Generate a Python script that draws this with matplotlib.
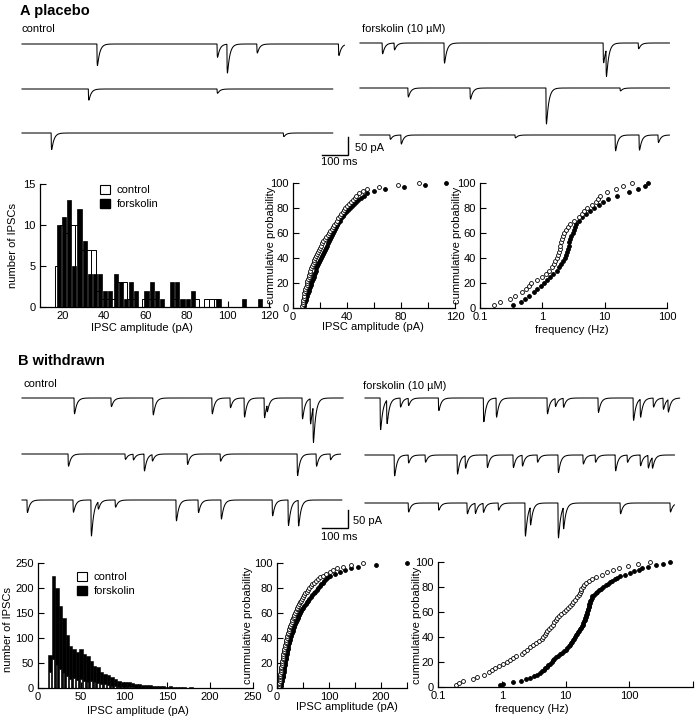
import numpy as np
import matplotlib
matplotlib.use("Agg")
import matplotlib.pyplot as plt
from matplotlib.patches import Patch
from matplotlib.ticker import NullLocator

plt.rcParams['font.family'] = ['Liberation Sans', 'DejaVu Sans']
plt.rcParams['font.size'] = 8
plt.rcParams['axes.linewidth'] = 0.9

# ------------------------------------------------------------------ DATA
# spontaneous IPSC traces: event times (ms) and amplitudes (pA) per sweep
a_ctrl_dur = [1240, 1195, 1195]
a_ctrl_t = [[288, 750, 788, 903, 1217], [255, 750], [112, 1005]]
a_ctrl_amp = [[60, 37, 80, 25, 32], [31, 12], [46, 10]]

a_fsk_dur = [1190, 1190, 1190]
a_fsk_t = [[85, 131, 323, 935, 946, 1070], [184, 423, 715, 1000],
           [115, 157, 596, 981, 1073, 1146]]
a_fsk_amp = [[30, 19, 56, 55, 75, 16], [25, 31, 100, 8],
             [12, 25, 8, 44, 42, 21]]

b_ctrl_dur = [1235, 1225, 1230]
b_ctrl_t = [[200, 342, 503, 730, 800, 854, 931, 942, 1077, 1108, 1119],
            [177, 396, 427, 469, 500, 635, 762, 1058, 1131, 1185],
            [19, 196, 265, 292, 358, 592, 677, 765, 962, 1023, 1062]]
b_ctrl_amp = [[44, 24, 47, 44, 27, 53, 55, 20, 58, 70, 100],
              [34, 15, 16, 47, 18, 29, 20, 60, 34, 16],
              [35, 34, 100, 20, 20, 58, 35, 53, 44, 71, 71]]

b_fsk_dur = [1210, 1190, 1190]
b_fsk_t = [[58, 83, 135, 166, 282, 455, 504, 700, 731, 762, 896, 1031, 1058, 1108, 1146, 1165],
           [112, 166, 231, 354, 385, 469, 569, 604, 662, 742, 838, 885, 962, 1008, 1058, 1088, 1104],
           [166, 282, 392, 423, 454, 512, 615, 635, 742, 762, 981, 1173]]
b_fsk_amp = [[88, 65, 25, 20, 35, 66, 53, 44, 22, 25, 40, 62, 50, 25, 31, 35],
             [58, 22, 20, 53, 35, 35, 35, 30, 20, 49, 25, 20, 44, 20, 30, 35, 30],
             [25, 20, 30, 28, 25, 20, 92, 50, 97, 60, 30, 25]]

# amplitude histograms
hist_a_start, hist_a_width = 16.0, 2.5
hist_a_ctrl = [5, 10, 9, 10, 10, 7, 7, 7, 2, 1, 1, 1, 3, 3, 1, 1, 0, 1, 1, 1, 0,
               0, 0, 1, 0, 0, 0, 1, 0, 1, 1, 1, 0, 0, 0, 0, 0, 0, 0, 0, 0]
hist_a_fsk = [10, 11, 13, 5, 12, 8, 4, 4, 4, 2, 2, 4, 3, 1, 3, 2, 0, 2, 3, 2, 1,
              0, 3, 3, 1, 1, 2, 0, 0, 0, 0, 1, 0, 0, 0, 0, 1, 0, 0, 1, 0]

hist_b_start, hist_b_width = 12.0, 4.0
hist_b_fsk = [67, 225, 200, 165, 140, 107, 85, 78, 73, 79, 68, 64, 55, 45, 42,
              33, 28, 26, 22, 19, 15, 13, 12, 13, 10, 9, 8, 7, 6, 6, 5, 4, 5, 4, 3,
              5, 2, 3, 2, 2, 1, 2, 1, 1, 1, 0, 1, 1, 1, 0, 1, 0, 1, 1, 0, 1, 0, 1, 1, 0]
hist_b_ctrl = [32, 58, 47, 38, 30, 24, 18, 20, 16, 18, 14, 13, 15, 12, 10, 8, 9,
               6, 5, 4, 3, 3, 2, 2, 2, 1, 1, 1, 1, 0, 0, 0, 0, 0, 1, 1, 1, 1, 0, 0,
               0, 0, 0, 0, 0, 0, 0, 0, 0, 0, 0, 0, 0, 0, 0, 0, 0, 0, 0, 0]

# cumulative distributions (sorted values)
cum_a_amp_ctrl = [6.8, 7.1, 7.4, 7.7, 8.0, 8.2, 8.5, 8.8, 9.2, 9.6, 10.0, 10.3, 10.6,
                  11.0, 11.5, 11.9, 12.3, 12.7, 13.2, 13.9, 14.6, 15.2, 15.9, 16.6,
                  17.3, 18.0, 18.6, 19.3, 20.0, 20.7, 21.5, 22.5, 23.6, 24.6, 25.6,
                  26.6, 27.6, 28.7, 29.7, 30.7, 31.7, 32.7, 33.7, 34.8, 35.8, 36.8,
                  37.8, 38.8, 40.1, 41.5, 42.9, 44.2, 45.6, 46.9, 49.0, 51.5, 55.0,
                  64.0, 78.0, 93.0]
cum_a_amp_fsk = [7.8, 8.3, 8.8, 9.3, 9.8, 10.4, 11.0, 11.5, 12.0, 12.5, 13.0, 13.4,
                 14.0, 14.6, 15.2, 15.7, 16.2, 16.8, 17.3, 18.0, 18.7, 19.4, 20.1,
                 20.8, 21.4, 22.2, 22.9, 23.6, 24.3, 25.0, 25.8, 26.6, 27.3, 28.1,
                 28.8, 29.6, 30.2, 30.9, 31.5, 32.5, 33.5, 34.5, 35.5, 36.8, 38.0,
                 39.2, 40.5, 42.0, 43.5, 45.0, 46.5, 48.2, 50.0, 52.5, 55.0, 60.0,
                 68.0, 82.0, 98.0, 113.0]
cum_a_freq_ctrl = [0.17, 0.21, 0.30, 0.37, 0.47, 0.54, 0.60, 0.67, 0.82, 1.00, 1.15,
                   1.30, 1.43, 1.53, 1.62, 1.69, 1.76, 1.85, 1.92, 1.95, 1.98, 2.05,
                   2.15, 2.25, 2.40, 2.60, 2.80, 3.20, 3.9, 4.3, 4.7, 5.2, 6.2, 7.3,
                   7.9, 8.4, 11.0, 15.0, 20.0, 27.0]
cum_a_freq_fsk = [0.34, 0.45, 0.53, 0.62, 0.73, 0.83, 0.94, 1.06, 1.19, 1.34, 1.48,
                  1.70, 1.88, 2.0, 2.15, 2.28, 2.38, 2.47, 2.56, 2.63, 2.72, 2.82,
                  2.92, 3.05, 3.2, 3.35, 3.5, 3.9, 4.3, 5.0, 5.8, 6.8, 8.0, 9.3,
                  11.2, 16.0, 25.0, 34.0, 45.0, 50.0]
cum_b_amp_ctrl = [4.0, 4.4, 4.7, 5.1, 5.5, 5.8, 6.2, 6.5, 7.1, 7.6, 8.1, 8.6, 9.1,
                  9.6, 10.1, 10.7, 11.3, 11.8, 12.4, 13.0, 13.6, 14.2, 14.9, 15.7,
                  16.4, 17.1, 17.9, 18.6, 19.4, 20.4, 21.5, 22.4, 23.5, 24.5, 25.5,
                  26.6, 28.0, 29.2, 30.6, 31.9, 33.2, 34.5, 36.0, 37.5, 39.2, 40.7,
                  42.4, 43.9, 45.6, 47.6, 50.0, 52.2, 54.6, 56.9, 59.3, 61.5, 64.6,
                  67.7, 71.0, 74.5, 79.0, 83.2, 87.7, 94.2, 101, 108, 116, 126, 142, 165]
cum_b_amp_fsk = [7.0, 7.7, 8.5, 9.2, 9.9, 10.6, 11.4, 12.0, 12.6, 13.2, 13.8, 14.4,
                 15.0, 15.5, 16.1, 16.7, 17.3, 17.8, 18.4, 19.0, 19.6, 20.2, 21.1,
                 22.0, 22.9, 23.7, 24.6, 25.5, 26.5, 27.6, 28.8, 29.9, 31.1, 32.2,
                 33.4, 34.8, 36.4, 38.0, 39.6, 41.2, 42.8, 44.3, 46.4, 48.5, 50.7,
                 52.8, 55.0, 57.2, 59.4, 62.0, 65.0, 67.8, 70.8, 73.6, 76.6, 79.4,
                 82.4, 85.2, 88.2, 91.3, 95.1, 98.8, 102.7, 111, 121, 130, 142, 156,
                 190, 250]
cum_b_freq_ctrl = [0.19, 0.21, 0.25, 0.36, 0.41, 0.52, 0.62, 0.70, 0.79, 0.92, 1.03,
                   1.20, 1.35, 1.50, 1.70, 2.05, 2.20, 2.50, 2.75, 3.10, 3.45, 3.90,
                   4.25, 4.50, 4.70, 4.90, 5.20, 5.50, 5.90, 6.30, 6.70, 7.00, 7.40,
                   7.90, 8.60, 9.40, 10.2, 11.0, 11.8, 12.6, 13.2, 14.0, 15.2, 16.3,
                   16.8, 17.3, 17.8, 18.5, 19.7, 21.0, 23.5, 26.0, 30.0, 37.0, 45.0,
                   55.0, 68.0, 95.0, 135.0, 210.0]
cum_b_freq_fsk = [0.95, 1.05, 1.5, 2.0, 2.4, 2.75, 3.2, 3.6, 3.95, 4.3, 4.55, 4.85,
                  5.1, 5.4, 5.8, 6.1, 6.4, 6.7, 7.1, 7.7, 8.3, 8.9, 9.5, 10.1, 10.7,
                  11.2, 11.6, 12.1, 12.6, 13.0, 13.5, 14.0, 14.6, 15.2, 15.8, 16.4,
                  17.0, 17.6, 18.2, 18.6, 19.0, 19.4, 19.9, 20.4, 21.0, 21.3, 21.6,
                  22.0, 22.3, 22.6, 23.0, 23.3, 23.7, 24.1, 24.6, 25.1, 25.6, 26.5,
                  28.0, 29.6, 31.3, 33.5, 36.3, 39.0, 42.5, 46.0, 50.0, 53.0, 59.0,
                  64.0, 72.0, 85.0, 102, 120, 140, 160, 200, 260, 340, 430]

# ------------------------------------------------------------------ FIGURE
W, H = 698, 720
fig = plt.figure(figsize=(W / 100, H / 100), dpi=100)


def px_axes(l, t, r, b):
    return fig.add_axes([l / W, 1 - b / H, (r - l) / W, (b - t) / H])


def ftext(x, y, s, **kw):
    kw.setdefault('va', 'center')
    kw.setdefault('ha', 'left')
    fig.text(x / W, 1 - y / H, s, **kw)


PX_MS = 0.26   # pixels per ms (100 ms bar = 26 px)
PX_PA = 0.36   # pixels per pA (50 pA bar = 18 px)
TAU_R, TAU_D = 0.8, 9.0


def sweep(dur, times, amps, dt=0.5):
    t = np.arange(0, dur + dt, dt)
    tk = np.arange(0, 100, 0.05)
    kpk = (np.exp(-tk / TAU_D) - np.exp(-tk / TAU_R)).max()
    y = np.zeros_like(t)
    for t0, a in zip(times, amps):
        s = t - t0
        m = s >= 0
        y[m] -= a * (np.exp(-s[m] / TAU_D) - np.exp(-s[m] / TAU_R)) / kpk
    return t, y


def trace_block(left, top, right, bottom, rows_px, durs, times, amps):
    ax = px_axes(left, top, right, bottom)
    ax.set_xlim(0, (right - left) / PX_MS)
    ax.set_ylim(-(bottom - top) / PX_PA, 0)
    ax.axis('off')
    for rp, d, tt, aa in zip(rows_px, durs, times, amps):
        t, y = sweep(d, tt, aa)
        ax.plot(t, y - (rp - top) / PX_PA, color='black', lw=0.75, clip_on=False)
    return ax


def scale_bar(ax, left, top, x_px, y_top_px):
    x = (x_px - left) / PX_MS
    y1 = -(y_top_px - top) / PX_PA
    y0 = y1 - 50
    ax.plot([x, x, x - 100], [y1, y0, y0], color='black', lw=1.0,
            solid_joinstyle='miter', clip_on=False)


# panel titles
ftext(20, 11, 'A placebo', fontsize=10.5, fontweight='bold')
ftext(22, 29, 'control')
ftext(362, 29, 'forskolin (10 \u00b5M)')
ftext(18, 361, 'B withdrawn', fontsize=10.5, fontweight='bold')
ftext(24, 384, 'control')
ftext(363, 386, 'forskolin (10 \u00b5M)')

axA1 = trace_block(22, 30, 352, 170, [44, 89, 133], a_ctrl_dur, a_ctrl_t, a_ctrl_amp)
scale_bar(axA1, 22, 30, 348, 137)
ftext(355, 148, '50 pA')
ftext(321, 162, '100 ms')
trace_block(360, 30, 690, 170, [43, 88, 135], a_fsk_dur, a_fsk_t, a_fsk_amp)

axB1 = trace_block(22, 385, 352, 545, [398, 454, 500], b_ctrl_dur, b_ctrl_t, b_ctrl_amp)
scale_bar(axB1, 22, 385, 348, 510)
ftext(353, 521, '50 pA')
ftext(321, 537, '100 ms')
trace_block(365, 385, 695, 545, [398, 455, 503], b_fsk_dur, b_fsk_t, b_fsk_amp)


def style(ax):
    for s in ('top', 'right'):
        ax.spines[s].set_visible(False)
    ax.tick_params(direction='in', length=4, width=0.8, labelsize=8, pad=3)
    ax.tick_params(which='minor', direction='in', length=4, width=0.8)


def label_pos(ax, bounds, xl, yl):
    l, t, r, b = bounds
    ax.xaxis.set_label_coords((xl[0] - l) / (r - l), (b - xl[1]) / (b - t))
    ax.yaxis.set_label_coords((yl[0] - l) / (r - l), (b - yl[1]) / (b - t))
    ax.xaxis.label.set_va('center')
    ax.yaxis.label.set_va('center')


def cum(ax, vals, filled):
    v = np.asarray(vals, dtype=float)
    p = np.arange(1, len(v) + 1) / len(v) * 100
    ax.plot(v, p, ls='none', marker='o', ms=2.8,
            mfc='black' if filled else 'white', mec='black', mew=0.6, clip_on=False)


def legend(ax, x, y):
    h = [Patch(fc='white', ec='black', lw=0.8), Patch(fc='black', ec='black')]
    ax.legend(h, ['control', 'forskolin'], loc='upper left', bbox_to_anchor=(x, y),
              frameon=False, fontsize=8, handlelength=0.9, handleheight=0.8,
              handletextpad=0.6, labelspacing=0.35, borderpad=0, borderaxespad=0)


# ---- A histogram
bA = (40, 184, 270, 307)
ax = px_axes(*bA)
style(ax)
sa = hist_a_start + hist_a_width * np.arange(len(hist_a_ctrl))
ca = np.array(hist_a_ctrl)
fa = np.array(hist_a_fsk)
ax.bar(sa[ca > 0], ca[ca > 0], width=hist_a_width, align='edge', fc='white', ec='black', lw=0.7)
ax.bar(sa[fa > 0] + 1.0, fa[fa > 0], width=2.0, align='edge', fc='black', ec='black', lw=0.5)
ax.set_xlim(8.8, 120.5)
ax.set_ylim(0, 15)
ax.set_xticks([20, 40, 60, 80, 100, 120])
ax.set_yticks([0, 5, 10, 15])
ax.set_xlabel('IPSC amplitude (pA)')
ax.set_ylabel('number of IPSCs')
label_pos(ax, bA, (142, 328), (13, 245))
legend(ax, (100 - 40) / 230, (307 - 185) / 123)

# ---- A cumulative amplitude
bA2 = (293, 183, 455, 308)
ax = px_axes(*bA2)
style(ax)
cum(ax, cum_a_amp_fsk, True)
cum(ax, cum_a_amp_ctrl, False)
ax.set_xlim(0, 120)
ax.set_ylim(0, 100)
ax.set_xticks([0, 40, 80, 120])
ax.set_xticks([20, 60, 100], minor=True)
ax.set_yticks([0, 20, 40, 60, 80, 100])
ax.set_xlabel('IPSC amplitude (pA)')
ax.set_ylabel('cummulative probability')
label_pos(ax, bA2, (373, 327), (271, 245))

# ---- A cumulative frequency
bA3 = (480, 183, 667, 308)
ax = px_axes(*bA3)
style(ax)
ax.set_xscale('log')
cum(ax, cum_a_freq_fsk, True)
cum(ax, cum_a_freq_ctrl, False)
ax.set_xlim(0.1, 100)
ax.set_ylim(0, 100)
ax.set_xticks([0.1, 1, 10, 100], ['0.1', '1', '10', '100'])
ax.xaxis.set_minor_locator(NullLocator())
ax.set_yticks([0, 20, 40, 60, 80, 100])
ax.set_xlabel('frequency (Hz)')
ax.set_ylabel('cummulative probability')
label_pos(ax, bA3, (572, 330), (457, 245))

# ---- B histogram
bB = (38, 563, 253, 688)
ax = px_axes(*bB)
style(ax)
sb = hist_b_start + hist_b_width * np.arange(len(hist_b_fsk))
fb = np.array(hist_b_fsk)
cb = np.array(hist_b_ctrl)
ax.bar(sb[fb > 0], fb[fb > 0], width=hist_b_width, align='edge', fc='black', ec='black', lw=0.4)
ax.bar(sb[cb > 0] + 0.6, cb[cb > 0], width=2.0, align='edge', fc='white', ec='black', lw=0.5)
ax.set_xlim(0, 250)
ax.set_ylim(0, 250)
ax.set_xticks([0, 50, 100, 150, 200, 250])
ax.set_yticks([0, 50, 100, 150, 200, 250])
ax.set_xlabel('IPSC amplitude (pA)')
ax.set_ylabel('number of IPSCs')
label_pos(ax, bB, (138, 711), (8, 630))
legend(ax, (77 - 38) / 215, (688 - 572) / 125)

# ---- B cumulative amplitude
bB2 = (277, 563, 407, 688)
ax = px_axes(*bB2)
style(ax)
cum(ax, cum_b_amp_fsk, True)
cum(ax, cum_b_amp_ctrl, False)
ax.set_xlim(0, 250)
ax.set_ylim(0, 100)
ax.set_xticks([0, 100, 200])
ax.set_xticks([50, 150, 250], minor=True)
ax.set_yticks([0, 20, 40, 60, 80, 100])
ax.set_xlabel('IPSC amplitude (pA)')
ax.set_ylabel('cummulative probability')
label_pos(ax, bB2, (347, 707), (248, 625))

# ---- B cumulative frequency
bB3 = (438, 562, 693, 687)
ax = px_axes(*bB3)
style(ax)
ax.set_xscale('log')
cum(ax, cum_b_freq_fsk, True)
cum(ax, cum_b_freq_ctrl, False)
ax.set_xlim(0.1, 1000)
ax.set_ylim(0, 100)
ax.set_xticks([0.1, 1, 10, 100, 1000], ['0.1', '1', '10', '100', ''])
ax.xaxis.set_minor_locator(NullLocator())
ax.set_yticks([0, 20, 40, 60, 80, 100])
ax.set_xlabel('frequency (Hz)')
ax.set_ylabel('cummulative probability')
label_pos(ax, bB3, (532, 709), (417, 625))

fig.savefig('out.png', dpi=100)
